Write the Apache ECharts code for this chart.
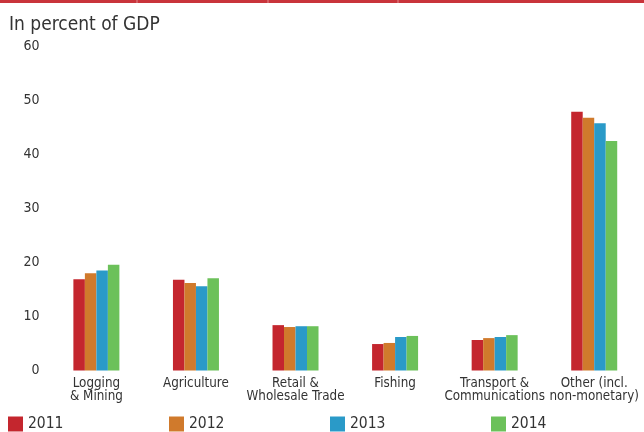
<!DOCTYPE html>
<html><head><meta charset="utf-8">
<script src="https://cdn.jsdelivr.net/npm/echarts@6/dist/echarts.min.js"></script>
<style>html,body{margin:0;padding:0;background:#fff}#c{width:644px;height:432px}</style>
</head><body><div id="c"></div>
<script>
var categories = ['Logging\n& Mining', 'Agriculture', 'Retail &\nWholesale Trade', 'Fishing', 'Transport &\nCommunications', 'Other (incl.\nnon-monetary)'];
var years = ['2011', '2012', '2013', '2014'];
var v2011 = [16.9, 16.8, 8.4, 4.9, 5.65, 47.9];
var v2012 = [18.0, 16.2, 8.05, 5.1, 6.0, 46.8];
var v2013 = [18.5, 15.6, 8.2, 6.2, 6.2, 45.8];
var v2014 = [19.6, 17.1, 8.2, 6.4, 6.55, 42.5];
var yTicks = [0, 10, 20, 30, 40, 50, 60];
var colors = ['#C4262E', '#D07A2C', '#2A9AC8', '#6CC15A'];
var values = [v2011, v2012, v2013, v2014];
var FONT = '"Liberation Sans Narrow", "DejaVu Sans Condensed", "Liberation Sans", sans-serif';

var chart = echarts.init(document.getElementById('c'));
var legendX = [8, 169, 330, 491];
var legends = years.map(function (y, i) {
  return {
    data: [y], left: legendX[i], top: 416, padding: 0, itemWidth: 15, itemHeight: 15, itemGap: 7,
    icon: 'rect', textStyle: { fontFamily: FONT, fontSize: 15.5, color: '#333' }
  };
});
chart.setOption({
  animation: false,
  color: colors,
  title: { text: 'In percent of GDP', left: 9, top: 16, padding: 0,
    textStyle: { fontFamily: FONT, fontSize: 19, fontWeight: 'normal', color: '#333' } },
  graphic: [
    { type: 'rect', shape: { x: 0, y: 0, width: 644, height: 3 }, style: { fill: '#C9343B' } },
    { type: 'rect', shape: { x: 136.5, y: 0, width: 1, height: 3 }, style: { fill: '#E08A8F' } },
    { type: 'rect', shape: { x: 267.5, y: 0, width: 1, height: 3 }, style: { fill: '#E08A8F' } },
    { type: 'rect', shape: { x: 397.5, y: 0, width: 1, height: 3 }, style: { fill: '#E08A8F' } }
  ],
  legend: legends,
  grid: { left: 46.6, right: -7.6, top: 46.5, bottom: 61.5, containLabel: false },
  xAxis: {
    type: 'category', data: categories,
    axisLine: { show: false }, axisTick: { show: false },
    axisLabel: { interval: 0, margin: 7, lineHeight: 13, fontFamily: FONT, fontSize: 13.3, color: '#333' }
  },
  yAxis: {
    type: 'value', min: 0, max: 60, interval: 10,
    splitLine: { show: false }, axisLine: { show: false }, axisTick: { show: false },
    axisLabel: { margin: 7, fontFamily: FONT, fontSize: 14, color: '#333',
      formatter: function (v) { return yTicks.indexOf(v) >= 0 ? String(v) : ''; } }
  },
  series: years.map(function (y, i) {
    return { name: y, type: 'bar', data: values[i], barWidth: 11.5, barGap: '0%', barCategoryGap: '54%',
      itemStyle: { color: colors[i] } };
  })
});
</script></body></html>
